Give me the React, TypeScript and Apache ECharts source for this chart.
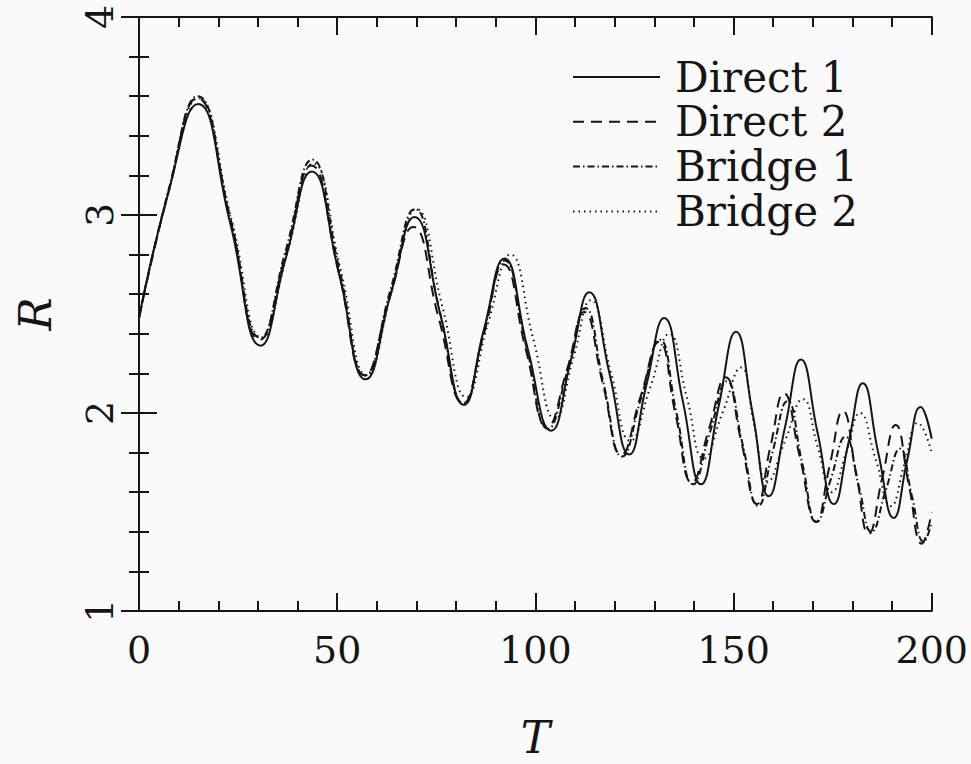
import React, { useEffect, useRef } from "react";
import * as echarts from "echarts";

const seriesNames = ["Direct 1", "Direct 2", "Bridge 1", "Bridge 2"];

const xTicks = [0, 50, 100, 150, 200];
const yTicks = [1, 2, 3, 4];

const direct1: [number, number][] = [
  [0, 2.48], [7.5, 3.12], [14.9, 3.56], [23, 2.96], [30.7, 2.34], [37, 2.78], [43.6, 3.22],
  [50.5, 2.7], [57.2, 2.17], [63.5, 2.6], [69.5, 2.99], [76, 2.5], [82, 2.04], [87, 2.42],
  [92.2, 2.78], [98, 2.33], [104, 1.91], [109, 2.27], [113.6, 2.61], [118.7, 2.2], [123.7, 1.79],
  [128, 2.14], [132.5, 2.48], [137.2, 2.06], [141.8, 1.64], [146.2, 2.03], [150.6, 2.41],
  [154.8, 2.0], [158.9, 1.58], [163, 1.93], [167, 2.27], [171.2, 1.9], [175.3, 1.54], [179, 1.85],
  [182.6, 2.15], [186.5, 1.8], [190.4, 1.47], [193.8, 1.76], [197.2, 2.03], [200, 1.87],
];

const direct2: [number, number][] = [
  [0, 2.48], [7.5, 3.12], [14.7, 3.59], [23, 2.98], [30.5, 2.37], [37, 2.8], [43.5, 3.25],
  [50.3, 2.72], [57, 2.19], [63.2, 2.58], [69.2, 2.94], [75.6, 2.48], [81.8, 2.05], [87, 2.4],
  [92, 2.75], [97.6, 2.32], [103, 1.93], [108, 2.22], [112.3, 2.51], [117, 2.15], [121.7, 1.79],
  [126.5, 2.08], [131.2, 2.36], [135.3, 2.0], [139.5, 1.65], [143.8, 1.92], [148, 2.18],
  [151.9, 1.86], [155.9, 1.54], [159.3, 1.83], [162.7, 2.1], [166.7, 1.78], [170.8, 1.45],
  [174.2, 1.73], [177.6, 2.01], [180.9, 1.7], [184.1, 1.39], [187.5, 1.67], [190.9, 1.94],
  [194.2, 1.64], [197.5, 1.34], [200, 1.5],
];

const bridge1: [number, number][] = [
  [0, 2.48], [7.5, 3.13], [14.8, 3.6], [23, 2.99], [30.6, 2.38], [37, 2.82], [43.7, 3.28],
  [50.4, 2.74], [57.1, 2.19], [63.4, 2.62], [69.6, 3.03], [75.8, 2.52], [81.9, 2.05], [87, 2.41],
  [92.2, 2.77], [97.8, 2.33], [103.2, 1.92], [108.2, 2.22], [112.6, 2.53], [117.2, 2.15],
  [121.9, 1.78], [126.6, 2.07], [131.4, 2.37], [135.6, 2.0], [139.8, 1.64], [144, 1.9],
  [148.3, 2.16], [152.2, 1.85], [156.2, 1.53], [159.8, 1.8], [163.6, 2.06], [167.3, 1.75],
  [171, 1.45], [174.6, 1.67], [178.2, 1.88], [181.6, 1.63], [184.8, 1.4], [188.4, 1.61],
  [192, 1.82], [195, 1.58], [198, 1.35], [200, 1.45],
];

const bridge2: [number, number][] = [
  [0, 2.48], [7.5, 3.12], [15, 3.59], [23.3, 2.98], [31, 2.38], [37.3, 2.8], [44, 3.26],
  [50.8, 2.73], [57.5, 2.19], [63.8, 2.62], [70, 3.03], [76.5, 2.54], [82.6, 2.08], [88, 2.45],
  [93.7, 2.8], [99.4, 2.38], [105, 1.97], [109.6, 2.28], [114, 2.57], [119, 2.21], [124, 1.86],
  [129, 2.13], [133.8, 2.4], [138.2, 2.08], [142.5, 1.77], [147.2, 2.0], [151.9, 2.23],
  [155.2, 1.94], [158.5, 1.65], [163, 1.86], [167.5, 2.07], [171.2, 1.83], [174.8, 1.6],
  [178.4, 1.8], [181.9, 2.0], [185.8, 1.77], [189.7, 1.53], [193.1, 1.74], [196.5, 1.95],
  [200, 1.8],
];

const seriesData = [direct1, direct2, bridge1, bridge2];
const lineTypes: any[] = ["solid", [11, 7], [7, 3, 1.5, 3], [1.5, 4]];

const INK = "#151515";
const SERIF = "DejaVu Serif";

export default function App() {
  const ref = useRef<HTMLDivElement>(null);
  useEffect(() => {
    const chart = echarts.init(ref.current!, null, { renderer: "svg", width: 971, height: 764 });
    const axisCommon = {
      type: "value" as const,
      axisLine: { show: true, lineStyle: { color: INK, width: 2 } },
      axisTick: { show: true, inside: true, length: 18, lineStyle: { color: INK, width: 2 } },
      minorTick: { show: true, splitNumber: 5, length: 10, lineStyle: { color: INK, width: 2 } },
      splitLine: { show: false },
      minorSplitLine: { show: false },
    };
    // legend drawn as graphic rows (line sample + label)
    const legendLeft = 573;
    const legendTop = 77;
    const legendRow = 44.8;
    const legendGraphic: any[] = [];
    seriesNames.forEach((name, i) => {
      const y = legendTop + i * legendRow;
      const t = lineTypes[i];
      legendGraphic.push({
        type: "line",
        shape: { x1: legendLeft, y1: y, x2: legendLeft + 87, y2: y },
        style: { stroke: INK, lineWidth: 2, lineDash: Array.isArray(t) ? t : null },
      });
      legendGraphic.push({
        type: "text",
        x: legendLeft + 102,
        y,
        style: {
          text: name,
          fontFamily: SERIF,
          fontSize: 42,
          fill: INK,
          align: "left",
          verticalAlign: "middle",
        },
      });
    });

    chart.setOption({
      animation: false,
      backgroundColor: "#fafafa",
      grid: { left: 139, top: 17, width: 794, height: 604, containLabel: false },
      graphic: legendGraphic,
      xAxis: [
        {
          ...axisCommon,
          position: "bottom",
          min: xTicks[0],
          max: xTicks[xTicks.length - 1],
          interval: xTicks[1] - xTicks[0],
          name: "T",
          nameLocation: "middle",
          nameGap: 104,
          nameTextStyle: { fontFamily: SERIF, fontStyle: "italic", fontSize: 44, color: INK },
          axisLabel: { show: true, margin: 20, fontFamily: SERIF, fontSize: 38, color: INK },
        },
        {
          ...axisCommon,
          position: "top",
          min: xTicks[0],
          max: xTicks[xTicks.length - 1],
          interval: xTicks[1] - xTicks[0],
          axisLabel: { show: false },
        },
      ],
      yAxis: [
        {
          ...axisCommon,
          position: "left",
          min: yTicks[0],
          max: yTicks[yTicks.length - 1],
          interval: yTicks[1] - yTicks[0],
          name: "R",
          nameLocation: "middle",
          nameGap: 82,
          nameTextStyle: { fontFamily: SERIF, fontStyle: "italic", fontSize: 44, color: INK },
          axisLabel: { show: false },
        },
        {
          ...axisCommon,
          position: "right",
          min: yTicks[0],
          max: yTicks[yTicks.length - 1],
          interval: yTicks[1] - yTicks[0],
          axisLabel: { show: false },
        },
      ],
      series: [
        ...seriesNames.map((name, i) => ({
          name,
          type: "line",
          data: seriesData[i],
          smooth: 0.5,
          symbol: "none",
          clip: true,
          lineStyle: { color: INK, width: 2, type: lineTypes[i] },
          itemStyle: { color: INK },
        })),
        {
          // rotated y tick labels placed through the axis scale
          type: "custom",
          clip: false,
          silent: true,
          data: yTicks.map((v) => [xTicks[0], v]),
          renderItem: (params: any, api: any) => {
            const p = api.coord([api.value(0), api.value(1)]);
            return {
              type: "text",
              x: p[0] - 39,
              y: p[1],
              rotation: Math.PI / 2,
              style: {
                text: String(api.value(1)),
                fontFamily: SERIF,
                fontSize: 38,
                fill: INK,
                align: "center",
                verticalAlign: "middle",
              },
            };
          },
        },
      ],
    });
    return () => chart.dispose();
  }, []);
  return <div ref={ref} style={{ position: "fixed", left: 0, top: 0, width: 971, height: 764 }} />;
}
